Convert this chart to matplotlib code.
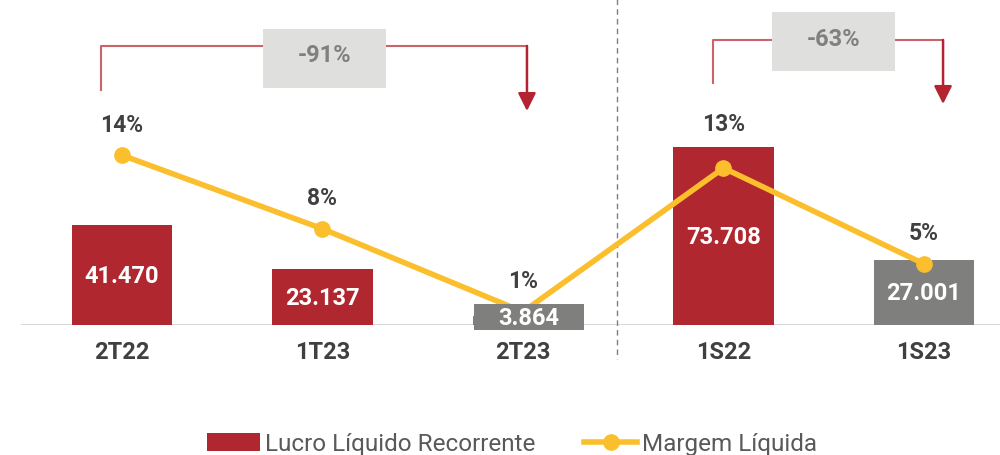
import matplotlib
matplotlib.use("Agg")
import matplotlib.pyplot as plt
from matplotlib.patches import Rectangle, Patch
from matplotlib.lines import Line2D
from matplotlib.transforms import blended_transform_factory

plt.rcParams['font.family'] = ['Roboto', 'DejaVu Sans']

# data
categories = ["2T22", "1T23", "2T23", "1S22", "1S23"]
lucro = [41470, 23137, 3864, 73708, 27001]
lucro_labels = ["41.470", "23.137", "3.864", "73.708", "27.001"]
margem = [14.1, 7.8, 0.7, 13.0, 4.8]
margem_labels = ["14%", "8%", "1%", "13%", "5%"]
variacoes = ["-91%", "-63%"]

RED = "#B1272F"
GRAY = "#7F7F7E"
YELLOW = "#FBBF2D"
TEXT = "#404040"
bar_colors = [RED, RED, GRAY, RED, GRAY]

W, H = 1000, 456
fig = plt.figure(figsize=(W / 100, H / 100), dpi=100)
ax = fig.add_axes([0, 1 - 326 / H, 1, 326 / H])
ax2 = ax.twinx()

x = list(range(len(categories)))
ax.bar(x, lucro, width=0.5, color=bar_colors, zorder=2)
ax.set_xlim(-0.608, 4.379)
ax.set_ylim(0, 135200)
ax2.set_ylim(-0.43, 27.46)

ax2.plot(x, margem, color=YELLOW, lw=4, marker="o", ms=11, zorder=3,
         solid_capstyle="round")

for a in (ax, ax2):
    for s in a.spines.values():
        s.set_visible(False)
    a.set_yticks([])
ax.set_xticks(x)
ax.set_xticklabels(categories, fontsize=17, fontweight="bold", color=TEXT)
ax.tick_params(axis="x", length=0, pad=11)

# baseline
ax.axhline(0, xmin=22 / W, xmax=1, color="#D9D9D9", lw=1.5, zorder=1)

# annotations in x-data / figure-pixel coordinates
tr = blended_transform_factory(ax.transData, fig.transFigure)


def fy(px):
    return 1 - px / H


fig.canvas.draw()


def top_px(i, v):
    # pixel row (from the top) of a bar top
    return H - ax.transData.transform((i, v))[1]


# bar value labels (drawn over the line)
for i, v in enumerate(lucro):
    if v < 10000:
        t = top_px(i, v)
        ax2.add_patch(Rectangle((i - 0.245, fy(t + 14)), 0.55, 26 / H,
                                transform=tr, fc=GRAY, ec="none",
                                clip_on=False, zorder=5))
        ax2.text(i + 0.03, fy(t + 1.5), lucro_labels[i], transform=tr,
                 ha="center", va="center", fontsize=17, fontweight="bold",
                 color="white", zorder=6)
    else:
        ax2.text(i, v / 2, lucro_labels[i], transform=ax.transData,
                 ha="center", va="center", fontsize=17, fontweight="bold",
                 color="white", zorder=6)

# percentage labels above the higher of marker / bar
for i in x:
    yb = ax.transData.transform((i, lucro[i]))[1]
    yp = ax2.transData.transform((i, margem[i]))[1] + 7
    xd = ax2.transData.transform((i, margem[i]))[0]
    ytop = max(yb, yp) + 24
    xx, yy = ax2.transData.inverted().transform((xd, ytop))
    ax2.text(xx, yy, margem_labels[i], ha="center", va="center",
             fontsize=16.5, fontweight="bold", color=TEXT, zorder=6)


def bracket(x0, x1, y_start, y_top, y_tip, box_x0, box_x1, box_y0, box_y1, label, text_y):
    ax2.add_line(Line2D([x0, x0, x1], [fy(y_start), fy(y_top), fy(y_top)],
                        transform=tr, color="#CB636B", lw=1.5, clip_on=False,
                        zorder=4))
    ax2.annotate("", xy=(x1, fy(y_tip)), xycoords=tr,
                 xytext=(x1, fy(y_top)), textcoords=tr,
                 arrowprops=dict(arrowstyle="-|>,head_length=0.9,head_width=0.45",
                                 color="#B32330", lw=1.8, mutation_scale=12,
                                 shrinkA=0, shrinkB=0), zorder=4)
    ax2.add_patch(Rectangle((box_x0, fy(box_y1)), box_x1 - box_x0,
                            fy(box_y0) - fy(box_y1), transform=tr,
                            fc="#DFE0DE", ec="none", clip_on=False, zorder=5))
    ax2.text((box_x0 + box_x1) / 2, fy(text_y), label, transform=tr,
             ha="center", va="center", fontsize=17, fontweight="bold",
             color="#808080", zorder=6)


bracket(0 - 0.105, 2 + 0.02, 91, 47, 112, 0.703, 1.317, 30, 89, variacoes[0], 55)
bracket(3 - 0.05, 4 + 0.095, 84, 41, 105, 3.242, 3.855, 13, 72, variacoes[1], 39)

# separator
ax2.add_line(Line2D([2.47, 2.47], [fy(0), fy(360)], transform=tr,
                    color="#7F7F7F", lw=1, ls=(0, (4, 3)), clip_on=False))

# legend
handles = [Patch(fc=RED, ec="none"),
           Line2D([], [], color=YELLOW, lw=4, marker="o", ms=11)]
fig.legend(handles, ["Lucro Líquido Recorrente", "Margem Líquida"],
           loc="center", bbox_to_anchor=(0.512, fy(445)), ncol=2,
           frameon=False, fontsize=17.5, labelcolor="#595959",
           handlelength=2.2, handletextpad=0.2, columnspacing=2.0,
           borderaxespad=0)

fig.savefig("out.png", dpi=100)
